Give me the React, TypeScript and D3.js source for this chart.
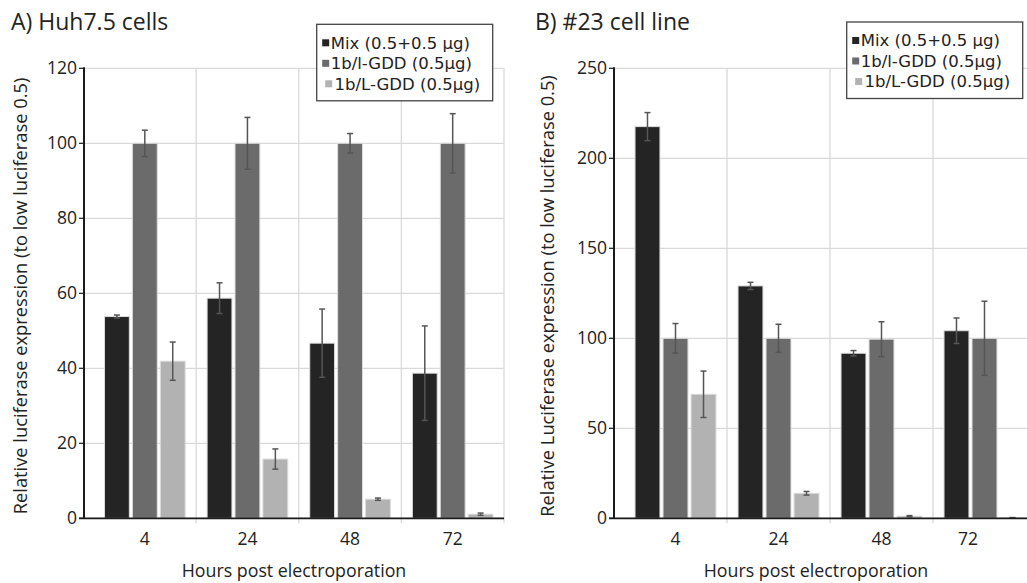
import React from "react";
import * as d3 from "d3";

const hours = ["4", "24", "48", "72"];
const seriesNames = ["Mix (0.5+0.5 μg)", "1b/l-GDD (0.5μg)", "1b/L-GDD (0.5μg)"];
const seriesColors = ["#242424", "#6b6b6b", "#b2b2b2"];

// Panel A: Huh7.5 cells
const huhMix = [53.8, 58.7, 46.7, 38.7];
const huhMixErr = [0.4, 4.1, 9.1, 12.6];
const huhLow = [100, 100, 100, 100];
const huhLowErr = [3.5, 6.9, 2.6, 7.9];
const huhHigh = [41.9, 15.8, 5.1, 1.1];
const huhHighErr = [5.1, 2.7, 0.3, 0.3];
const huhTicks = [0, 20, 40, 60, 80, 100, 120];

// Panel B: #23 cell line
const c23Mix = [217.6, 129.1, 91.7, 104.2];
const c23MixErr = [7.8, 2.0, 1.5, 7.1];
const c23Low = [100, 100, 99.5, 100];
const c23LowErr = [8.2, 7.8, 9.7, 20.6];
const c23High = [68.9, 13.9, 1.2, 0.3];
const c23HighErr = [12.9, 1.0, 0.3, 0.1];
const c23Ticks = [0, 50, 100, 150, 200, 250];

const FONT = "'Open Sans', sans-serif";
const LEGEND_FONT = "'DejaVu Sans', sans-serif";

type PanelProps = {
  title: string;
  yTitle: string;
  values: number[][];
  errors: number[][];
  ticks: number[];
  axisX: number;
  bandRange: [number, number];
  plotRight: number;
  labelClipRight: number;
  titleX: number;
  xTitleX: number;
  yTitleX: number;
  legendX: number;
  legendY: number;
};

function Panel(p: PanelProps) {
  const yMax = p.ticks[p.ticks.length - 1];
  const y = d3.scaleLinear().domain([0, yMax]).range([518.3, 68.3]);
  const x = d3.scaleBand<string>().domain(hours).range(p.bandRange).paddingInner(0).paddingOuter(0);
  const bw = x.bandwidth();
  const inset = bw * 0.107;
  const sub = d3
    .scaleBand<number>()
    .domain([0, 1, 2])
    .range([inset, bw - inset])
    .paddingInner(0.11);
  const y0 = y(0);
  const boundaries = hours.map((h) => (x(h) as number) + bw).filter((b) => b <= p.plotRight + 1);

  return (
    <g>
      <text x={p.titleX} y={30} fontFamily={FONT} fontSize={23} fill="#222">
        {p.title}
      </text>
      {/* horizontal gridlines */}
      {p.ticks.map((t) => (
        <line key={"h" + t} x1={p.axisX} x2={p.plotRight} y1={y(t)} y2={y(t)} stroke="#d9d9d9" strokeWidth={1.3} />
      ))}
      {/* vertical gridlines */}
      {boundaries.map((b, i) => (
        <line key={"v" + i} x1={b} x2={b} y1={y(yMax)} y2={y0 + 5} stroke="#d9d9d9" strokeWidth={1.3} />
      ))}
      {/* bars */}
      {p.values.map((vals, s) =>
        vals.map((v, i) => {
          const bx = (x(hours[i]) as number) + (sub(s) as number);
          return (
            <rect
              key={`b${s}-${i}`}
              x={bx}
              y={y(v)}
              width={sub.bandwidth()}
              height={y0 - y(v)}
              fill={seriesColors[s]}
              stroke="#dcdcdc"
              strokeWidth={1}
            />
          );
        })
      )}
      {/* error bars */}
      {p.values.map((vals, s) =>
        vals.map((v, i) => {
          const cx = (x(hours[i]) as number) + (sub(s) as number) + sub.bandwidth() / 2;
          const e = p.errors[s][i];
          const yt = y(v + e);
          const yb = y(Math.max(0, v - e));
          return (
            <g key={`e${s}-${i}`} stroke="#555" strokeWidth={1.5}>
              <line x1={cx} x2={cx} y1={yt} y2={yb} />
              <line x1={cx - 3} x2={cx + 3} y1={yt} y2={yt} />
              <line x1={cx - 3} x2={cx + 3} y1={yb} y2={yb} />
            </g>
          );
        })
      )}
      {/* axes */}
      <line x1={p.axisX} x2={p.axisX} y1={y(yMax) - 1} y2={y0} stroke="#1a1a1a" strokeWidth={2} />
      <line x1={p.axisX - 5} x2={p.plotRight} y1={y0} y2={y0} stroke="#1a1a1a" strokeWidth={1.8} />
      {p.ticks.map((t) => (
        <g key={"t" + t}>
          <line x1={p.axisX - 5} x2={p.axisX} y1={y(t)} y2={y(t)} stroke="#1a1a1a" strokeWidth={1.2} />
          <text
            x={p.axisX - 7}
            y={y(t)}
            dy="0.35em"
            textAnchor="end"
            fontFamily={FONT}
            fontSize={17.5}
            fill="#222"
          >
            {t}
          </text>
        </g>
      ))}
      {hours.map((h) => {
        const start = x(h) as number;
        const end = Math.min(start + bw, p.labelClipRight);
        return (
          <text
            key={"x" + h}
            x={(start + end) / 2}
            y={545}
            textAnchor="middle"
            fontFamily={FONT}
            fontSize={17.5}
            fill="#222"
          >
            {h}
          </text>
        );
      })}
      <text
        x={p.xTitleX}
        y={577}
        textAnchor="middle"
        fontFamily={FONT}
        fontSize={17.8}
        fill="#222"
      >
        Hours post electroporation
      </text>
      <text
        transform={`translate(${p.yTitleX},296) rotate(-90)`}
        textAnchor="middle"
        fontFamily={FONT}
        fontSize={18.3}
        fill="#222"
      >
        {p.yTitle}
      </text>
      {/* legend */}
      <g transform={`translate(${p.legendX},${p.legendY})`}>
        <rect x={0} y={0} width={176} height={76.5} fill="#fff" stroke="#444" strokeWidth={1.3} />
        {seriesNames.map((n, i) => {
          const shift = i === 2 ? 3 : 0;
          return (
            <g key={"l" + i} transform={`translate(0,${18.5 + i * 20.5})`}>
              <rect x={5.5 + shift} y={-3.5} width={7} height={7} fill={seriesColors[i]} />
              <text
                x={14 + shift * 1.3}
                y={0}
                dy="0.36em"
                fontFamily={LEGEND_FONT}
                fontSize={16.5}
                fill="#222"
              >
                {n}
              </text>
            </g>
          );
        })}
      </g>
    </g>
  );
}

export default function App() {
  return (
    <svg
      width={1027}
      height={583}
      style={{ position: "absolute", left: 0, top: 0, background: "#fff" }}
    >
      <rect width={1027} height={583} fill="#fff" />
      <Panel
        title="A) Huh7.5 cells"
        yTitle="Relative luciferase expression (to low luciferase 0.5)"
        values={[huhMix, huhLow, huhHigh]}
        errors={[huhMixErr, huhLowErr, huhHighErr]}
        ticks={huhTicks}
        axisX={84}
        bandRange={[93.5, 504]}
        plotRight={504}
        labelClipRight={504}
        titleX={11}
        xTitleX={294}
        yTitleX={27}
        legendX={316.7}
        legendY={24.3}
      />
      <Panel
        title="B) #23 cell line"
        yTitle="Relative Luciferase expression (to low luciferase 0.5)"
        values={[c23Mix, c23Low, c23High]}
        errors={[c23MixErr, c23LowErr, c23HighErr]}
        ticks={c23Ticks}
        axisX={614}
        bandRange={[624, 1036]}
        plotRight={1027}
        labelClipRight={1003}
        titleX={535}
        xTitleX={816}
        yTitleX={554}
        legendX={846.7}
        legendY={22}
      />
    </svg>
  );
}
